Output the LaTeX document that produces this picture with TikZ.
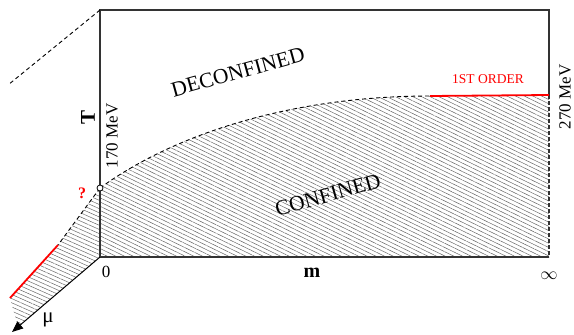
\documentclass[tikz,border=0pt]{standalone}
\usepackage{fontspec}
\setmainfont{Liberation Serif}
\usetikzlibrary{arrows.meta,patterns.meta}
\begin{document}
\begin{tikzpicture}[x=1pt,y=-1pt,
  frame/.style={line width=1.1pt, draw=black!80},
  crit/.style={dash pattern=on 4pt off 3pt, line width=0.9pt},
  firstorder/.style={draw=red, line width=1.8pt},
  hatch/.style={pattern={Lines[angle=-26,distance=3.8pt,line width=0.5pt]}, pattern color=black!60},
  hatchmu/.style={pattern={Lines[angle=-24,distance=3.8pt,line width=0.5pt]}, pattern color=black!60},
  lbl/.style={inner sep=0pt, font=\fontsize{17}{20}\selectfont},
  big/.style={inner sep=0pt, font=\fontsize{21.5}{24}\selectfont},
]
\useasboundingbox (0,0) rectangle (574,335);
\coordinate (O) at (100,257);
\coordinate (TT) at (100,10);
\coordinate (TR) at (549,10);
\coordinate (BR) at (549,257);
\coordinate (C) at (100,188);
\coordinate (K) at (430,96);
\coordinate (R) at (549,95);
\coordinate (L1) at (58,245);
\coordinate (L2) at (10,298);
\coordinate (L3) at (18,327);
\coordinate (MU) at (12,332);
\coordinate (TL) at (8,85);
% hatched regions
\path[hatch] (C) .. controls (180,130) and (300,96) .. (K) -- (R) -- (BR) -- (O) -- cycle;
\path[hatchmu] (C) -- (L1) -- (L2) -- (L3) -- (O) -- cycle;
% frame
\draw[frame] (C) -- (TT) -- (TR) -- (R);
\draw[frame] (O) -- (BR);
\draw[frame, dash pattern=on 4pt off 2pt] (R) -- (BR);
\draw[frame] (O) -- (C);
\draw[crit] (TT) -- (TL);
\draw[line width=1pt, -{Triangle[length=11pt,width=9pt]}] (O) -- (MU);
% critical lines
\draw[crit] (C) .. controls (180,130) and (300,96) .. (K);
\draw[firstorder] (K) -- (R);
\draw[crit] (C) -- (L1);
\draw[firstorder] (L1) -- (L2);
\node[circle, draw, line width=0.8pt, fill=white, inner sep=0pt, minimum size=6pt] (cp) at (C) {};
% labels
\node[big, rotate=15.5] (deconf) at (238,72) {DECONFINED};
\node[big, rotate=16] (conf) at (328,195) {CONFINED};
\node[inner sep=0pt, font=\fontsize{13.5}{16}\selectfont, text=red] (fo) at (488,79) {1ST ORDER};
\node[inner sep=0pt, font=\fontsize{21}{24}\selectfont\bfseries, rotate=90] (T) at (88,117) {T};
\node[lbl, rotate=90] (t170) at (112,136) {170 MeV};
\node[lbl, rotate=90] (t270) at (565,97) {270 MeV};
\node[inner sep=0pt, font=\fontsize{16}{18}\selectfont\bfseries, text=red] (q) at (82,193) {?};
\node[lbl] (zero) at (106,272) {0};
\node[inner sep=0pt, font=\fontsize{20}{24}\selectfont\bfseries] (m) at (312,273) {m};
\node[lbl] (inf) at (549,276) {$\infty$};
\node[inner sep=0pt, font=\fontsize{21}{24}\selectfont] (mu) at (48,320) {μ};
\end{tikzpicture}
\end{document}
